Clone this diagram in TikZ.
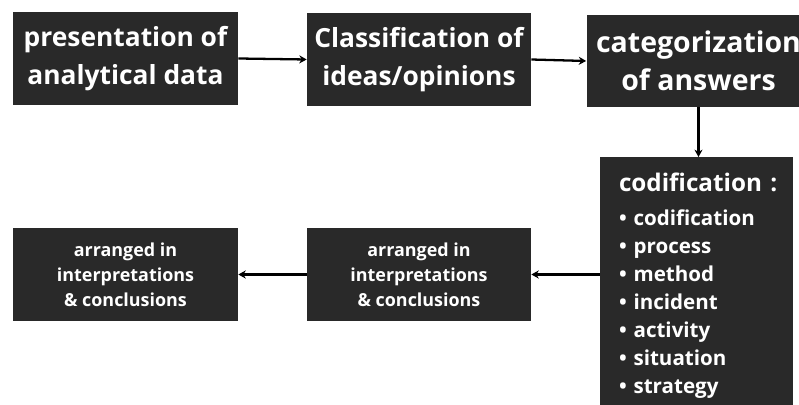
\documentclass[tikz,border=0pt]{standalone}
\usepackage{fontspec}
\setmainfont{Open Sans}
\usepackage{tikz}
\usetikzlibrary{arrows.meta}
\definecolor{boxgray}{RGB}{41, 41, 41}

\tikzset{
  stepbox/.style={fill=boxgray, text=white, font=\bfseries, align=center,
                  inner sep=0pt, minimum height=18.6mm},
  bigtext/.style={font=\bfseries\fontsize{15}{21.5}\selectfont},
  smalltext/.style={font=\bfseries\fontsize{10.2}{14.2}\selectfont},
  flow/.style={-{Stealth[length=4.2pt, width=4.6pt]}, line width=1.3pt}
}

\begin{document}
\begin{tikzpicture}[x=0.2mm, y=-0.2mm]
  \useasboundingbox (0, 0) rectangle (799, 405);

  % top row
  \node[stepbox, bigtext, minimum width=45mm] (pres) at (125.5, 58.5)
       {presentation of\\analytical data};
  \node[stepbox, bigtext, minimum width=44.8mm] (class) at (419, 59.5)
       {Classification of\\ideas/opinions};
  \node[stepbox, font=\bfseries\fontsize{16.2}{21.5}\selectfont,
        minimum width=44.8mm, minimum height=18.4mm] (categ) at (698.5, 61)
       {categorization\\of answers};

  % codification list
  \node[fill=boxgray, text=white, anchor=north, align=left, text width=31mm,
        inner xsep=3.8mm, inner ysep=3.2mm,
        font=\bfseries\fontsize{11.7}{15.9}\selectfont] (codif) at (696.5, 157)
       {\rlap{\fontsize{13.8}{18}\selectfont codification\hspace{0.35em}:}\\[1.2mm]
        \textbullet~codification\\
        \textbullet~process\\
        \textbullet~method\\
        \textbullet~incident\\
        \textbullet~activity\\
        \textbullet~situation\\
        \textbullet~strategy\\[2mm]};

  % bottom row
  \node[stepbox, smalltext, minimum width=44.8mm] (mid) at (419, 274.5)
       {arranged in\\interpretations\\\& conclusions};
  \node[stepbox, smalltext, minimum width=45mm] (left) at (125.5, 274.5)
       {arranged in\\interpretations\\\& conclusions};

  \draw[flow] (pres.east) -- (class.west);
  \draw[flow] (class.east) -- (categ.west);
  \draw[flow] (categ.south) -- (categ.south |- codif.north);
  \draw[flow] (codif.west |- mid.east) -- (mid.east);
  \draw[flow] (mid.west) -- (left.east);
\end{tikzpicture}
\end{document}
